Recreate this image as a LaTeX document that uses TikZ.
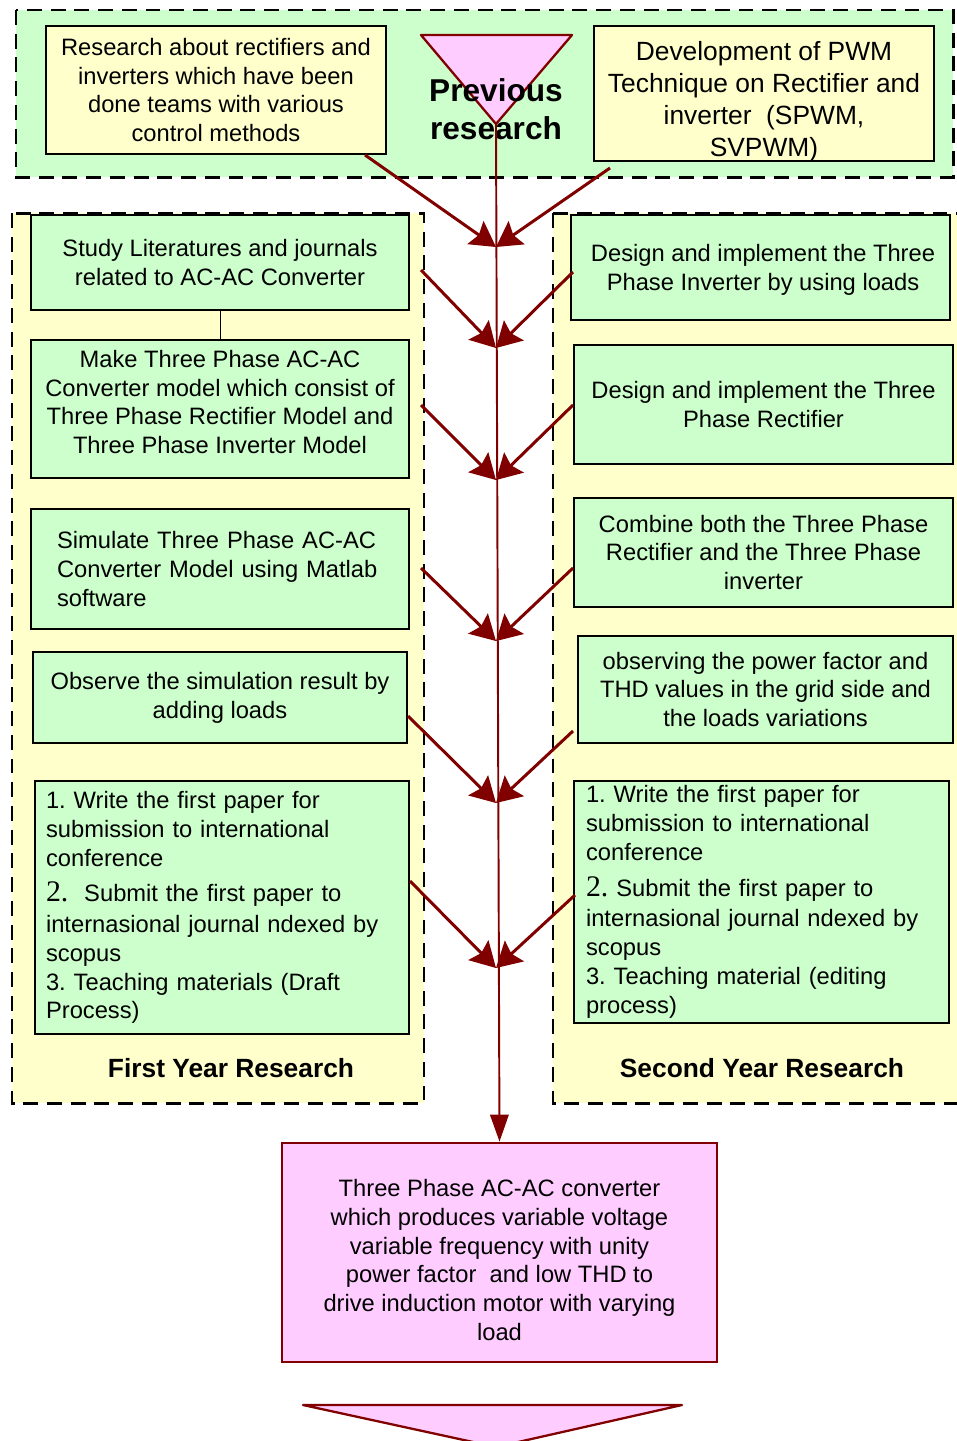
\documentclass[tikz,border=0pt]{standalone}
\usepackage{fontspec}
\setmainfont{Liberation Sans}
\newfontfamily\numfont{Liberation Serif}
\usetikzlibrary{arrows.meta,positioning}
\definecolor{darkred}{HTML}{800000}
\definecolor{mint}{HTML}{CCFFCC}
\definecolor{cream}{HTML}{FFFFCC}
\definecolor{rose}{HTML}{FFCCFF}
\frenchspacing
\newcommand{\Bnum}[1]{{\numfont\fontsize{17}{20}\selectfont #1}}
\tikzset{
  zone/.style={draw=black,line width=1.7pt,dash pattern=on 8.5pt off 5pt},
  stepbox/.style={draw=black,line width=1.6pt,fill=mint,align=center,inner sep=0pt,
    font=\fontsize{13.5}{16.4}\selectfont},
  prevbox/.style={stepbox,fill=cream},
  finalbox/.style={stepbox,draw=darkred,fill=rose},
  boxtext/.style={align=center,inner sep=0pt,font=\fontsize{13.5}{16.4}\selectfont},
  tri/.style={draw=darkred,fill=rose,line width=1.3pt,line join=round},
  flow/.style={-{Stealth[length=0.5cm,width=0.56cm,inset=0.08cm]},draw=darkred,line width=1.7pt},
  spine/.style={-{Triangle[length=0.54cm,width=0.37cm]},draw=darkred,line width=1.1pt},
  yearlabel/.style={font=\bfseries\fontsize{15}{18}\selectfont}
}

\begin{document}
\begin{tikzpicture}[x=0.02cm,y=-0.02cm]
\path[use as bounding box,clip] (0,0) rectangle (957,1441);
% \draw[help lines,step=50] (0,0) grid (957,1441);
%
% zones
\draw[zone,fill=mint] (16,10) rectangle (953,177);
\draw[zone,fill=cream] (12,213) rectangle (424,1103);
\draw[zone,fill=cream] (553,213) rectangle (975,1103);
%
% previous research
\node (prevA) [prevbox,minimum width=6.8cm,minimum height=2.56cm] at (216,90)
  {Research about rectifiers and\\inverters which have been\\done teams with various\\control methods};
\node (prevB) [prevbox,minimum width=6.8cm,minimum height=2.7cm] at (764,93.5) {};
\node (prevBtxt) [boxtext,font=\fontsize{15}{18.2}\selectfont] at (764,102)
  {Development of PWM\\Technique on Rectifier and\\inverter~~(SPWM,\\SVPWM)};
\draw[tri] (421,35) -- (572,35) -- (496,124) -- cycle;
\coordinate (apex) at (496,124);
\node (prev) [align=center,font=\bfseries\fontsize{18}{21.5}\selectfont] at (496,109) {Previous\\research};
%
% first year
\node (L1) [stepbox,minimum width=7.56cm,minimum height=1.9cm] at (220,262.5)
  {Study Literatures and journals\\related to AC-AC Converter};
\node (L2) [stepbox,minimum width=7.56cm,minimum height=2.76cm] at (220,409) {};
\node (L2txt) [boxtext] at (220,402)
  {Make Three Phase AC-AC\\Converter model which consist of\\Three Phase Rectifier Model and\\Three Phase Inverter Model};
\node (L3) [stepbox,align=left,text width=6.52cm,minimum width=7.56cm,minimum height=2.4cm] at (220,569)
  {Simulate Three Phase AC-AC\\Converter Model using Matlab\\software};
\node (L4) [stepbox,minimum width=7.48cm,minimum height=1.82cm] at (220,697.5)
  {Observe the simulation result by\\adding loads};
\node (L5) [stepbox,align=left,text width=7.04cm,minimum width=7.48cm,minimum height=5.06cm] at (222,907.5)
  {1. Write the first paper for\\submission to international\\conference\\[4pt]\Bnum{2.}~~Submit the first paper to\\[1pt]internasional journal ndexed by\\scopus\\3. Teaching materials (Draft\\Process)};
\draw[line width=0.5pt] (L1) -- (L2);
\node (yr1) [yearlabel] at (231,1068) {First Year Research};
%
% second year
\node (R1) [stepbox,minimum width=7.58cm,minimum height=2.1cm] at (760.5,267.5) {};
\node (R1txt) [boxtext] at (763,270)
  {Design and implement the Three\\Phase Inverter by using loads};
\node (R2) [stepbox,minimum width=7.58cm,minimum height=2.38cm] at (763.5,404.5)
  {Design and implement the Three\\Phase Rectifier};
\node (R3) [stepbox,minimum width=7.58cm,minimum height=2.18cm] at (763.5,552.5)
  {Combine both the Three Phase\\Rectifier and the Three Phase\\inverter};
\node (R4) [stepbox,minimum width=7.5cm,minimum height=2.14cm] at (765.5,689.5)
  {observing the power factor and\\THD values in the grid side and\\the loads variations};
\node (R5) [stepbox,align=left,text width=7.02cm,minimum width=7.5cm,minimum height=4.84cm] at (761.5,902)
  {1. Write the first paper for\\submission to international\\conference\\[4pt]\Bnum{2.}~Submit the first paper to\\[1pt]internasional journal ndexed by\\scopus\\3. Teaching material (editing\\process)};
\node (yr2) [yearlabel] at (762,1068) {Second Year Research};
%
% result
\node (final) [finalbox,minimum width=8.7cm,minimum height=4.38cm] at (499.5,1252.5) {};
\node (finaltxt) [boxtext] at (499.5,1260)
  {Three Phase AC-AC converter\\which produces variable voltage\\variable frequency with unity\\power factor~~and low THD to\\drive induction motor with varying\\load};
\draw[tri] (303,1405) -- (682,1405) -- (496,1447) -- cycle;
%
% arrows
\coordinate (c1) at (496,247); \coordinate (a1) at (365,155); \coordinate (b1) at (610,168);
\coordinate (c2) at (496,348); \coordinate (a2) at (421,270); \coordinate (b2) at (573,272);
\coordinate (c3) at (496,480); \coordinate (a3) at (421,405); \coordinate (b3) at (573,405);
\coordinate (c4) at (496,641); \coordinate (a4) at (421,568); \coordinate (b4) at (573,568);
\coordinate (c5) at (496,803); \coordinate (a5) at (408,716); \coordinate (b5) at (573,731);
\coordinate (c6) at (496,968); \coordinate (a6) at (410,881); \coordinate (b6) at (575,895);
\draw[spine] (apex) -- (final.north);
\foreach \i in {1,...,6}
  {\path (a\i) edge[flow] (c\i) (b\i) edge[flow] (c\i);}
\end{tikzpicture}
\end{document}
